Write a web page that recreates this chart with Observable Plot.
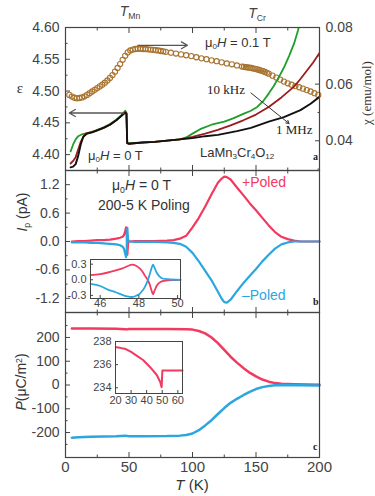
<!DOCTYPE html>
<html><head><meta charset="utf-8">
<script src="https://cdn.jsdelivr.net/npm/d3@7"></script>
<script src="https://cdn.jsdelivr.net/npm/@observablehq/plot@0.6"></script>
<style>
body{margin:0;background:#fff;}
#c{position:relative;width:375px;height:496px;overflow:hidden;background:#fff;}
#c sub{font-size:0.62em;vertical-align:-0.3em;line-height:0;}
#c sup{font-size:0.62em;vertical-align:0.5em;line-height:0;}
</style>
</head><body><div id="c"></div>
<script>
// ---------- data ----------
// panel a: dielectric constant vs T at three frequencies
const eps10k = [[4,4.405],[6,4.416],[8,4.424],[10,4.429],[13,4.432],[17,4.434],[21,4.436],[25,4.439],[30,4.443],[35,4.448],[40,4.455],[44,4.462],[47,4.469],[48,4.466],[48.6,4.419],[50,4.418],[60,4.419],[70,4.420],[80,4.422],[90,4.424],[95,4.427],[100,4.433],[106,4.440],[115,4.447],[125,4.452],[132,4.457],[140,4.464],[146,4.469],[151,4.475],[156,4.485],[160,4.496],[164,4.508],[168,4.522],[172,4.537],[176,4.555],[180,4.575],[183,4.595],[185,4.61]];
const eps100k = [[4,4.386],[6,4.390],[8,4.396],[10,4.408],[12,4.420],[14,4.428],[16,4.433],[20,4.435],[25,4.438],[30,4.442],[35,4.447],[40,4.454],[44,4.461],[47,4.467],[48,4.465],[48.6,4.418],[50,4.417],[60,4.419],[70,4.420],[80,4.422],[90,4.424],[100,4.428],[110,4.433],[120,4.439],[130,4.446],[140,4.454],[150,4.463],[160,4.475],[170,4.490],[180,4.507],[185,4.519],[190,4.532],[195,4.545],[200,4.560]];
const eps1M = [[4,4.380],[6,4.381],[8,4.385],[10,4.398],[12,4.416],[14,4.428],[17,4.433],[21,4.435],[25,4.438],[30,4.442],[35,4.447],[40,4.454],[44,4.461],[47,4.466],[48,4.464],[48.6,4.418],[50,4.417],[60,4.419],[70,4.420],[80,4.422],[90,4.424],[100,4.426],[110,4.429],[120,4.431],[135,4.437],[146,4.442],[160,4.452],[172,4.459],[185,4.470],[193,4.480],[200,4.491]];
// panel a: susceptibility (right axis), open circles
const chi = [[3,.0562],[5,.0556],[7,.0552],[9,.0550],[11,.0551],[13,.0553],[15,.0557],[17,.0562],[19,.0568],[21,.0574],[23,.0580],[25,.0586],[27,.0592],[29,.0598],[31,.0605],[33,.0613],[35,.0622],[37,.0632],[39,.0644],[41,.0657],[43,.0671],[45,.0686],[47,.0700],[49,.0712],[51,.0719],[53,.0722],[55,.0724],[57,.0725],[59,.0725],[61,.0724],[63,.0724],[65,.0723],[67,.0722],[69,.0721],[71,.0720],[73,.0719],[75,.0717],[77,.0716],[79,.0714],[83,.0711],[87,.0708],[91,.0705],[95,.0702],[99,.0699],[103,.0695],[107,.0691],[111,.0688],[115,.0684],[119,.0681],[123,.0677],[127,.0673],[131,.0670],[135,.0666],[139,.0662],[140.5,.0661],[142,.0660],[143.5,.0659],[145,.0658],[146.5,.0657],[148,.0655],[149.5,.0654],[151,.0652],[152.5,.0650],[154,.0648],[155.5,.0646],[157,.0643],[158.5,.0640],[160,.0637],[163,.0630],[166,.0623],[169,.0616],[172,.0609],[175,.0603],[178,.0598],[181,.0593],[184,.0589],[187,.0584],[190,.0579],[193,.0574],[196,.0568],[199,.0562]];
const arrowsA = [{x1:46,y1:4.4655,x2:3,y2:4.4655},{x1:57,y1:4.572,x2:96,y2:4.572}];
const pointerA = [{x1:146,y1:4.497,x2:176,y2:4.449}];

// panel b: pyroelectric current
const ipPlus = [[5,0.00],[10,0.01],[15,0.01],[20,0.02],[25,0.03],[30,0.03],[35,0.04],[40,0.06],[43,0.08],[45,0.10],[46,0.13],[47,0.22],[47.7,0.30],[48.2,0.15],[48.7,-0.28],[49.2,-0.05],[50,0.00],[55,0.01],[60,0.01],[70,0.01],[80,0.02],[85,0.03],[90,0.06],[95,0.12],[100,0.30],[105,0.50],[110,0.74],[115,1.00],[120,1.24],[123,1.33],[125,1.37],[127,1.36],[130,1.31],[135,1.14],[140,0.98],[145,0.81],[150,0.66],[155,0.50],[160,0.34],[165,0.20],[170,0.10],[175,0.05],[180,0.02],[185,0.00],[190,0.00],[200,0.00]];
const ipMinus = [[5,-0.02],[10,-0.02],[15,-0.02],[20,-0.03],[25,-0.03],[30,-0.04],[35,-0.05],[40,-0.06],[43,-0.08],[45,-0.11],[46,-0.15],[47,-0.26],[47.7,-0.33],[48.2,-0.20],[48.7,0.29],[49.2,0.05],[50,0.00],[55,-0.01],[60,-0.01],[70,-0.01],[80,-0.02],[85,-0.03],[90,-0.05],[95,-0.11],[100,-0.24],[105,-0.42],[110,-0.62],[115,-0.82],[120,-1.06],[123,-1.21],[125,-1.28],[127,-1.29],[130,-1.23],[135,-1.05],[140,-0.88],[145,-0.73],[150,-0.58],[155,-0.42],[160,-0.28],[165,-0.15],[170,-0.06],[175,-0.02],[180,0.00],[200,0.00]];
const insetPlus = [[45.5,0.09],[46.0,0.11],[46.4,0.14],[46.8,0.18],[47.15,0.22],[47.4,0.26],[47.66,0.29],[47.85,0.27],[48.04,0.22],[48.2,0.15],[48.29,0.09],[48.45,0.0],[48.55,-0.08],[48.65,-0.2],[48.73,-0.28],[48.8,-0.22],[48.93,-0.11],[49.05,-0.06],[49.18,-0.03],[49.5,-0.01],[50.15,0.0]];
const insetMinus = [[45.5,-0.08],[46.0,-0.12],[46.4,-0.19],[46.8,-0.24],[47.15,-0.29],[47.4,-0.32],[47.7,-0.33],[47.9,-0.30],[48.04,-0.27],[48.2,-0.2],[48.29,-0.15],[48.45,-0.02],[48.55,0.09],[48.65,0.22],[48.73,0.29],[48.8,0.24],[48.93,0.13],[49.05,0.07],[49.18,0.03],[49.5,0.01],[50.15,0.0]];

// panel c: polarization
const pPlus = [[5,238],[20,238],[40,237],[47,235],[49,234],[50,236],[60,236],[80,236],[95,235],[100,233],[105,227],[110,217],[115,200],[120,176],[125,148],[130,119],[135,94],[140,72],[145,52],[150,36],[155,23],[160,14],[165,8],[170,5],[180,3],[190,2],[200,1]];
const pMinus = [[5,-222],[10,-220],[20,-218],[30,-217],[40,-216],[47,-213],[50,-216],[60,-216],[80,-215],[90,-213],[95,-210],[100,-204],[105,-190],[110,-170],[115,-148],[120,-122],[125,-97],[130,-75],[135,-58],[140,-43],[145,-29],[150,-17],[155,-9],[160,-4],[165,-1],[170,0],[185,-1],[200,-2]];
const insetP = [[20.4,237.5],[23,237.45],[26.6,237.35],[30,237.1],[33.3,236.8],[37.7,236.4],[42.1,235.8],[46.5,235.1],[48.7,234.5],[49.6,234.05],[50.1,235.5],[55,235.5],[63,235.5]];

// tick values
const xMajor = [0,50,100,150,200], xMinor = [25,75,125,175];
const epsTicks = [4.40,4.45,4.50,4.55,4.60], epsMinor = [4.425,4.475,4.525,4.575];
const chiTicks = [0.04,0.06,0.08], chiMinor = [0.03,0.05,0.07];
const ipTicks = [-1.2,-0.6,0,0.6,1.2], ipMinor = [-0.9,-0.3,0.3,0.9];
const pTicks = [-200,-100,0,100,200], pMinor = [-250,-150,-50,50,150,250];
const insBx = [46,48,50], insBy = [-0.3,0,0.3];
const insCx = [20,30,40,50,60], insCy = [234,236,238];

// ---------- drawing ----------
const RED = "#f2395f", BLUE = "#2ba6df", GREEN = "#1f9e2a", DARKRED = "#9a1c1c", BROWN = "#a8732f", INK = "#444";
const SANS = "'Liberation Sans', Arial, sans-serif", SERIF = "'Liberation Serif', 'Times New Roman', serif";
const root = document.getElementById("c");
const baseStyle = {fontFamily: SANS, fontSize: "14px", color: INK, background: "transparent", overflow: "visible"};
function place(el, top, left = 0) {
  el.style.position = "absolute"; el.style.left = left + "px"; el.style.top = top + "px";
  root.appendChild(el);
}
const X = d => d[0], Y = d => d[1];
function xTickMarks() {
  return [
    Plot.axisX(xMajor, {anchor: "bottom", tickSize: -5, fill: "none", stroke: INK}),
    Plot.axisX(xMinor, {anchor: "bottom", tickSize: -2.5, fill: "none", stroke: INK}),
    Plot.axisX(xMajor, {anchor: "top", tickSize: -5, fill: "none", stroke: INK}),
    Plot.axisX(xMinor, {anchor: "top", tickSize: -2.5, fill: "none", stroke: INK})
  ];
}
function yAxis(major, minor, fmt, anchor = "left", pad = 6) {
  return [
    Plot.axisY(major, {anchor, tickSize: -5, fill: "none", stroke: INK}),
    Plot.axisY(minor, {anchor, tickSize: -2.5, fill: "none", stroke: INK}),
    Plot.axisY(major, {anchor, tickSize: 0, tickPadding: pad, tickFormat: fmt, label: null})
  ];
}

// panel a, right axis (chi) drawn underneath
const pAchi = Plot.plot({
  width: 375, height: 170, marginTop: 27, marginBottom: 0, marginLeft: 65, marginRight: 56,
  x: {domain: [0, 200], axis: null}, y: {domain: [0.0295, 0.08], axis: null},
  style: baseStyle,
  marks: [
    Plot.dot(chi, {x: X, y: Y, r: 2.6, stroke: BROWN, strokeWidth: 1.1, fill: "none"}),
    ...yAxis(chiTicks, chiMinor, d => d.toFixed(2), "right", 6)
  ]
});
place(pAchi, 0);

// panel a, left axis (epsilon)
const pA = Plot.plot({
  width: 375, height: 170, marginTop: 27, marginBottom: 0, marginLeft: 65, marginRight: 56,
  x: {domain: [0, 200], axis: null}, y: {domain: [4.375, 4.60], axis: null},
  style: baseStyle,
  marks: [
    Plot.line(eps10k, {x: X, y: Y, stroke: GREEN, strokeWidth: 1.8, clip: true}),
    Plot.line(eps100k, {x: X, y: Y, stroke: DARKRED, strokeWidth: 1.8, clip: true}),
    Plot.line(eps1M, {x: X, y: Y, stroke: "#111", strokeWidth: 1.9, clip: true}),
    Plot.arrow(arrowsA, {x1: "x1", y1: "y1", x2: "x2", y2: "y2", stroke: "#555", strokeWidth: 1.3, headLength: 8}),
    Plot.arrow(pointerA, {x1: "x1", y1: "y1", x2: "x2", y2: "y2", stroke: "#333", strokeWidth: 1, headLength: 5}),
    ...xTickMarks(),
    ...yAxis(epsTicks, epsMinor, d => d.toFixed(2)),
    Plot.frame({stroke: INK, strokeWidth: 1.2})
  ]
});
place(pA, 0);

// panel b
const pB = Plot.plot({
  width: 375, height: 142, marginTop: 0, marginBottom: 0, marginLeft: 65, marginRight: 56,
  x: {domain: [0, 200], axis: null}, y: {domain: [-1.5, 1.5], axis: null},
  style: baseStyle,
  marks: [
    Plot.line(ipPlus, {x: X, y: Y, stroke: RED, strokeWidth: 2.2}),
    Plot.line(ipMinus, {x: X, y: Y, stroke: BLUE, strokeWidth: 2.2}),
    ...xTickMarks(),
    ...yAxis(ipTicks, ipMinor, d => d.toFixed(1)),
    Plot.frame({stroke: INK, strokeWidth: 1.2})
  ]
});
place(pB, 170);

// panel c
const pC = Plot.plot({
  width: 375, height: 184, marginTop: 0, marginBottom: 39, marginLeft: 65, marginRight: 56,
  x: {domain: [0, 200], axis: null}, y: {domain: [-305, 305], axis: null},
  style: baseStyle,
  marks: [
    Plot.line(pPlus, {x: X, y: Y, stroke: RED, strokeWidth: 2.5}),
    Plot.line(pMinus, {x: X, y: Y, stroke: BLUE, strokeWidth: 2.5}),
    ...xTickMarks(),
    Plot.axisX(xMajor, {anchor: "bottom", tickSize: 0, tickPadding: 4, label: null, fontSize: 15}),
    ...yAxis(pTicks, pMinor, d => String(d)),
    Plot.frame({stroke: INK, strokeWidth: 1.2})
  ]
});
place(pC, 312);

// inset b
const insStyle = {fontFamily: SANS, fontSize: "11px", color: INK, background: "transparent", overflow: "visible"};
const iB = Plot.plot({
  width: 125, height: 55, marginLeft: 30, marginTop: 4, marginRight: 5, marginBottom: 12,
  x: {domain: [45.5, 50.15], axis: null}, y: {domain: [-0.36, 0.39], axis: null},
  style: insStyle,
  marks: [
    Plot.frame({fill: "white", stroke: "none"}),
    Plot.line(insetPlus, {x: X, y: Y, stroke: RED, strokeWidth: 1.8, curve: "catmull-rom"}),
    Plot.line(insetMinus, {x: X, y: Y, stroke: BLUE, strokeWidth: 1.8, curve: "catmull-rom"}),
    Plot.axisX(insBx, {anchor: "bottom", tickSize: -3, fill: "none", stroke: INK}),
    Plot.axisX(insBx, {anchor: "bottom", tickSize: 0, tickPadding: 1, label: null}),
    Plot.axisY(insBy, {anchor: "left", tickSize: -3, fill: "none", stroke: INK}),
    Plot.axisY(insBy, {anchor: "left", tickSize: 0, tickPadding: 4, tickFormat: d => d.toFixed(1), label: null}),
    Plot.frame({stroke: INK, strokeWidth: 1})
  ]
});
place(iB, 255, 60);

// inset c
const iC = Plot.plot({
  width: 107, height: 72, marginLeft: 35, marginTop: 5, marginRight: 5, marginBottom: 15,
  x: {domain: [20, 63], axis: null}, y: {domain: [233.5, 238], axis: null},
  style: insStyle,
  marks: [
    Plot.frame({fill: "white", stroke: "none"}),
    Plot.line(insetP, {x: X, y: Y, stroke: RED, strokeWidth: 2}),
    Plot.axisX(insCx, {anchor: "bottom", tickSize: -3, fill: "none", stroke: INK}),
    Plot.axisX(insCx, {anchor: "bottom", tickSize: 0, tickPadding: 3, label: null}),
    Plot.axisY(insCy, {anchor: "left", tickSize: -3, fill: "none", stroke: INK}),
    Plot.axisY(insCy, {anchor: "left", tickSize: 0, tickPadding: 4, label: null}),
    Plot.frame({stroke: INK, strokeWidth: 1})
  ]
});
place(iC, 336, 80);

// ---------- text annotations ----------
function txt(html, x, y, o = {}) {
  const {anchor = "start", size = 13, color = "#333", family = SANS, rotate = 0, weight = "normal"} = o;
  const d = document.createElement("div");
  d.innerHTML = html;
  const tx = anchor === "middle" ? "-50%" : anchor === "end" ? "-100%" : "0";
  Object.assign(d.style, {position: "absolute", left: x + "px", top: y + "px", whiteSpace: "nowrap",
    fontSize: size + "px", color, fontFamily: family, fontWeight: weight, lineHeight: "1",
    transform: `translate(${tx}, -50%) rotate(${rotate}deg)`});
  root.appendChild(d);
}
const mu0H = "μ<sub>0</sub><i>H</i>";
txt("<i>T</i><sub>Mn</sub>", 130, 11, {anchor: "middle", size: 14, color: "#444"});
txt("<i>T</i><sub>Cr</sub>", 257, 13, {anchor: "middle", size: 14, color: "#444"});
txt(mu0H + " = 0.1 T", 205, 42, {size: 13});
txt("10 kHz", 207, 89, {size: 13, family: SERIF, color: "#222"});
txt("1 MHz", 276, 129, {size: 13, family: SERIF, color: "#222"});
txt(mu0H + " = 0 T", 88, 155, {size: 13});
txt("LaMn<sub>3</sub>Cr<sub>4</sub>O<sub>12</sub>", 200, 152, {size: 13});
txt("a", 313, 157, {size: 10, family: SERIF, weight: "bold", color: "#222"});
txt("ε", 20, 88, {anchor: "middle", size: 15, family: SERIF});
txt("χ (emu/mol)", 366, 93, {anchor: "middle", size: 13, family: SERIF, rotate: -90});
txt(mu0H + " = 0 T", 112, 185, {size: 14});
txt("200-5 K Poling", 98, 205, {size: 14});
txt("+Poled", 242, 182, {size: 14, color: RED});
txt("–Poled", 242, 295, {size: 14, color: BLUE});
txt("b", 313, 302, {size: 10, family: SERIF, weight: "bold", color: "#222"});
txt("<i>I</i><sub>p</sub> (pA)", 22, 212, {anchor: "middle", size: 14, rotate: -90});
txt("<i>P</i>(μC/m<sup>2</sup>)", 21, 382, {anchor: "middle", size: 14, rotate: -90});
txt("c", 313, 447, {size: 10, family: SERIF, weight: "bold", color: "#222"});
txt("<i>T</i> (K)", 192, 484, {anchor: "middle", size: 15});
</script>
</body></html>
